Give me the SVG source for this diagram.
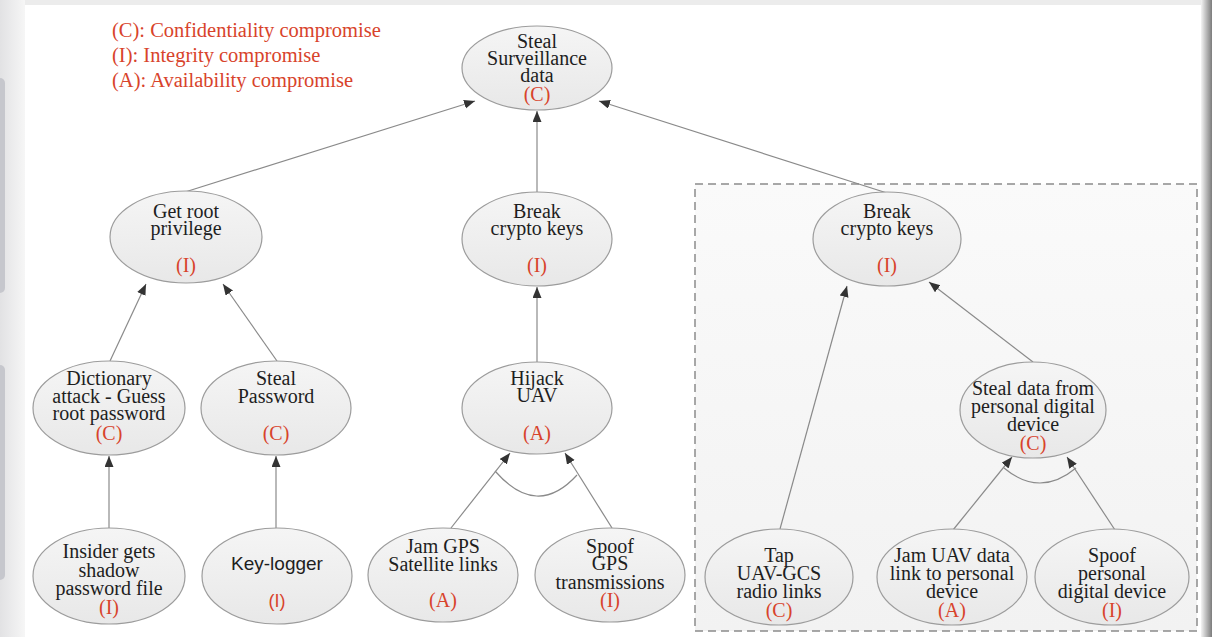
<svg xmlns="http://www.w3.org/2000/svg" width="1212" height="637" viewBox="0 0 1212 637">
<defs>
<linearGradient id="gNode" x1="0" y1="0" x2="0" y2="1">
<stop offset="0" stop-color="#f5f5f5"/><stop offset="1" stop-color="#e8e8e8"/>
</linearGradient>
<linearGradient id="gBox" x1="0" y1="0" x2="0" y2="1">
<stop offset="0" stop-color="#fafafa"/><stop offset="1" stop-color="#f2f2f2"/>
</linearGradient>
<linearGradient id="gLeft" x1="0" y1="0" x2="1" y2="0">
<stop offset="0" stop-color="#e2e2e4"/><stop offset="1" stop-color="#f6f6f6"/>
</linearGradient>
<linearGradient id="gRight" x1="0" y1="0" x2="1" y2="0">
<stop offset="0" stop-color="#f4f4f4"/><stop offset="1" stop-color="#7c7c7c"/>
</linearGradient>
<marker id="arr" markerUnits="userSpaceOnUse" markerWidth="12" markerHeight="10" refX="11" refY="4.5" orient="auto">
<path d="M0,0 L11,4.5 L0,9 z" fill="#333"/>
</marker>
<style>
.node ellipse{fill:url(#gNode);stroke:#9c9c9c;stroke-width:1.2}
.t{font-family:"Liberation Serif","Times New Roman",serif;font-size:20px;fill:#1e1e1e;text-anchor:middle}
.r{font-family:"Liberation Serif","Times New Roman",serif;font-size:20px;fill:#d8432b;text-anchor:middle}
.s{font-family:"Liberation Sans",Arial,sans-serif;font-size:19px;fill:#1e1e1e;text-anchor:middle}
.sr{font-family:"Liberation Sans",Arial,sans-serif;font-size:18px;fill:#d8432b;text-anchor:middle}
.leg{font-family:"Liberation Serif","Times New Roman",serif;font-size:20.5px;fill:#d8432b}
.e{stroke:#8a8a8a;stroke-width:1.2;fill:none}
.ea{stroke:#8a8a8a;stroke-width:1.2;fill:none;marker-end:url(#arr)}
</style>
</defs>
<!-- frame -->
<rect x="0" y="0" width="1212" height="637" fill="#ffffff"/>
<rect x="0" y="0" width="1212" height="5" fill="#ececec"/>
<rect x="0" y="0" width="25" height="637" fill="url(#gLeft)"/>
<rect x="-6" y="78" width="11" height="215" rx="5" fill="#c6c7cd"/>
<rect x="-6" y="365" width="11" height="215" rx="5" fill="#c6c7cd"/>
<rect x="1201" y="0" width="11" height="637" fill="url(#gRight)"/>

<!-- legend -->
<g id="legend">
<text class="leg" x="112" y="37">(C): Confidentiality compromise</text>
<text class="leg" x="112" y="62">(I): Integrity compromise</text>
<text class="leg" x="112" y="87">(A): Availability compromise</text>
</g>

<!-- dashed group box -->
<rect id="group-box" x="695" y="184" width="502" height="447" fill="url(#gBox)" stroke="#8c8c8c" stroke-width="1.5" stroke-dasharray="8 5"/>

<!-- connectors -->
<g id="connectors">
<line class="ea" x1="185" y1="192" x2="475" y2="101"/>
<line class="ea" x1="537" y1="192" x2="537" y2="111"/>
<line class="ea" x1="887" y1="193" x2="599" y2="101"/>
<line class="ea" x1="110" y1="361" x2="146" y2="284"/>
<line class="ea" x1="277" y1="361" x2="223" y2="284"/>
<line class="ea" x1="109" y1="528" x2="109" y2="456"/>
<line class="ea" x1="276" y1="528" x2="276" y2="456"/>
<line class="ea" x1="537" y1="362" x2="537" y2="287"/>
<line class="ea" x1="451" y1="528" x2="510" y2="453"/>
<line class="ea" x1="612" y1="528" x2="565" y2="453"/>
<line class="ea" x1="780" y1="529" x2="847" y2="286"/>
<line class="ea" x1="1033" y1="362" x2="929" y2="282"/>
<line class="ea" x1="953" y1="530" x2="1012" y2="457"/>
<line class="ea" x1="1115" y1="530" x2="1067" y2="457"/>
<path class="e" d="M495,471 Q537,519 577,475"/>
<path class="e" d="M1004,468 Q1040,498 1076,468"/>
</g>

<!-- nodes -->
<g id="n-root" class="node">
<ellipse cx="537" cy="68" rx="75" ry="42"/>
<text class="t" x="537" y="48">Steal</text>
<text class="t" x="537" y="65">Surveillance</text>
<text class="t" x="537" y="82">data</text>
<text class="r" x="537" y="101">(C)</text>
</g>
<g id="n-getroot" class="node">
<ellipse cx="186" cy="237" rx="76" ry="46"/>
<text class="t" x="186" y="218">Get root</text>
<text class="t" x="186" y="235">privilege</text>
<text class="r" x="186" y="272">(I)</text>
</g>
<g id="n-break1" class="node">
<ellipse cx="537" cy="239" rx="75" ry="47"/>
<text class="t" x="537" y="218">Break</text>
<text class="t" x="537" y="235">crypto keys</text>
<text class="r" x="537" y="272">(I)</text>
</g>
<g id="n-break2" class="node">
<ellipse cx="887" cy="239" rx="74" ry="47"/>
<text class="t" x="887" y="218">Break</text>
<text class="t" x="887" y="235">crypto keys</text>
<text class="r" x="887" y="272">(I)</text>
</g>
<g id="n-dict" class="node">
<ellipse cx="109" cy="408" rx="76" ry="47"/>
<text class="t" x="109" y="385">Dictionary</text>
<text class="t" x="109" y="403">attack - Guess</text>
<text class="t" x="109" y="420">root password</text>
<text class="r" x="109" y="440">(C)</text>
</g>
<g id="n-stealpw" class="node">
<ellipse cx="276" cy="408" rx="75" ry="47"/>
<text class="t" x="276" y="385">Steal</text>
<text class="t" x="276" y="403">Password</text>
<text class="r" x="276" y="440">(C)</text>
</g>
<g id="n-hijack" class="node">
<ellipse cx="537" cy="408" rx="75" ry="46"/>
<text class="t" x="537" y="385">Hijack</text>
<text class="t" x="537" y="402">UAV</text>
<text class="r" x="537" y="440">(A)</text>
</g>
<g id="n-stealdata" class="node">
<ellipse cx="1033" cy="410" rx="73" ry="48"/>
<text class="t" x="1033" y="395">Steal data from</text>
<text class="t" x="1033" y="413">personal digital</text>
<text class="t" x="1033" y="431">device</text>
<text class="r" x="1033" y="450">(C)</text>
</g>
<g id="n-insider" class="node">
<ellipse cx="109" cy="576" rx="76" ry="48"/>
<text class="t" x="109" y="558">Insider gets</text>
<text class="t" x="109" y="577">shadow</text>
<text class="t" x="109" y="595">password file</text>
<text class="r" x="109" y="614">(I)</text>
</g>
<g id="n-keylogger" class="node">
<ellipse cx="277" cy="576" rx="75" ry="48"/>
<text class="s" x="277" y="570">Key-logger</text>
<text class="sr" x="277" y="607">(I)</text>
</g>
<g id="n-jamgps" class="node">
<ellipse cx="443" cy="575" rx="75" ry="47"/>
<text class="t" x="443" y="553">Jam GPS</text>
<text class="t" x="443" y="571">Satellite links</text>
<text class="r" x="443" y="607">(A)</text>
</g>
<g id="n-spoofgps" class="node">
<ellipse cx="610" cy="575" rx="75" ry="47"/>
<text class="t" x="610" y="553">Spoof</text>
<text class="t" x="610" y="570">GPS</text>
<text class="t" x="610" y="589">transmissions</text>
<text class="r" x="610" y="607">(I)</text>
</g>
<g id="n-tap" class="node">
<ellipse cx="779" cy="577" rx="74" ry="48"/>
<text class="t" x="779" y="562">Tap</text>
<text class="t" x="779" y="580">UAV-GCS</text>
<text class="t" x="779" y="598">radio links</text>
<text class="r" x="779" y="617">(C)</text>
</g>
<g id="n-jamuav" class="node">
<ellipse cx="952" cy="577" rx="75" ry="48"/>
<text class="t" x="952" y="562">Jam UAV data</text>
<text class="t" x="952" y="580">link to personal</text>
<text class="t" x="952" y="598">device</text>
<text class="r" x="952" y="617">(A)</text>
</g>
<g id="n-spoofpd" class="node">
<ellipse cx="1112" cy="577" rx="77" ry="48"/>
<text class="t" x="1112" y="562">Spoof</text>
<text class="t" x="1112" y="580">personal</text>
<text class="t" x="1112" y="598">digital device</text>
<text class="r" x="1112" y="617">(I)</text>
</g>
</svg>
